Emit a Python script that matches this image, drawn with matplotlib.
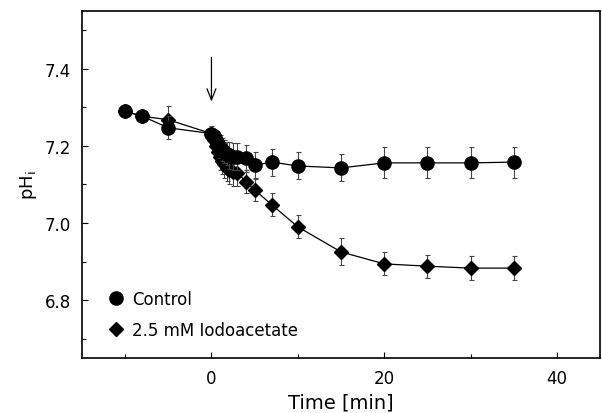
import matplotlib
matplotlib.use("Agg")
import matplotlib.pyplot as plt
from matplotlib.lines import Line2D
from matplotlib.ticker import MultipleLocator

# Data
time_ctrl = [-10, -8, -5, 0, 0.25, 0.5, 0.75, 1, 1.25, 1.5, 1.75, 2, 2.5, 3, 4, 5, 7, 10, 15, 20, 25, 30, 35]
ph_ctrl = [7.290, 7.277, 7.247, 7.232, 7.225, 7.215, 7.205, 7.198, 7.190, 7.185, 7.180, 7.176, 7.172, 7.172, 7.168, 7.150, 7.158, 7.148, 7.143, 7.156, 7.156, 7.156, 7.158]
err_ctrl = [0.015, 0.015, 0.030, 0.015, 0.020, 0.025, 0.025, 0.030, 0.030, 0.030, 0.030, 0.035, 0.035, 0.035, 0.035, 0.035, 0.035, 0.035, 0.035, 0.040, 0.040, 0.040, 0.040]

time_iaa = [-10, -8, -5, 0, 0.25, 0.5, 0.75, 1, 1.25, 1.5, 1.75, 2, 2.5, 3, 4, 5, 7, 10, 15, 20, 25, 30, 35]
ph_iaa = [7.290, 7.277, 7.268, 7.232, 7.215, 7.200, 7.185, 7.172, 7.162, 7.152, 7.143, 7.137, 7.132, 7.130, 7.107, 7.086, 7.047, 6.990, 6.925, 6.894, 6.888, 6.883, 6.883]
err_iaa = [0.015, 0.015, 0.035, 0.020, 0.025, 0.030, 0.030, 0.035, 0.035, 0.035, 0.035, 0.035, 0.035, 0.035, 0.030, 0.030, 0.030, 0.030, 0.035, 0.030, 0.030, 0.032, 0.032]

labels = ["Control", "2.5 mM Iodoacetate"]

fig = plt.figure(figsize=(6.02, 4.14), dpi=100)
ax = fig.add_axes([0.136, 0.133, 0.861, 0.838])

ax.errorbar(time_iaa, ph_iaa, yerr=err_iaa, fmt='-', color='black', lw=0.9,
            marker='D', markersize=7, ecolor='#444444', elinewidth=0.8, capsize=1.8, capthick=0.8, zorder=2)
ax.errorbar(time_ctrl, ph_ctrl, yerr=err_ctrl, fmt='-', color='black', lw=0.9,
            marker='o', markersize=9.5, ecolor='#444444', elinewidth=0.8, capsize=1.8, capthick=0.8, zorder=3)

ax.annotate('', xy=(0, 7.315), xytext=(0, 7.43),
            arrowprops=dict(arrowstyle='->,head_length=0.5,head_width=0.2', color='black',
                            lw=0.9, mutation_scale=16, shrinkA=0, shrinkB=0))

ax.set_xlim(-15, 45)
ax.set_ylim(6.65, 7.55)
ax.xaxis.set_major_locator(MultipleLocator(20))
ax.xaxis.set_minor_locator(MultipleLocator(10))
ax.yaxis.set_major_locator(MultipleLocator(0.2))
ax.yaxis.set_minor_locator(MultipleLocator(0.1))
ax.tick_params(which='both', direction='in', top=False, right=False, labelsize=12, colors='black')
ax.tick_params(which='major', length=4, width=0.8, pad=8)
ax.tick_params(which='minor', length=3, width=0.8)
ax.set_yticks([6.8, 7.0, 7.2, 7.4])
ax.set_yticklabels(['6.8', '7.0', '7.2', '7.4'])
for s in ax.spines.values():
    s.set_linewidth(1.2)

ax.set_xlabel('Time [min]', fontsize=14, labelpad=4)
ax.set_ylabel('pH$_\\mathregular{i}$', fontsize=13, labelpad=4)

handles = [Line2D([], [], marker='o', color='black', linestyle='none', markersize=9.5),
           Line2D([], [], marker='D', color='black', linestyle='none', markersize=7)]
ax.legend(handles, labels, loc='lower left', bbox_to_anchor=(0.02, 0.012), frameon=False,
          fontsize=12, handletextpad=0.4, labelspacing=0.75, handlelength=1.1)

fig.savefig('out.png', dpi=100)
